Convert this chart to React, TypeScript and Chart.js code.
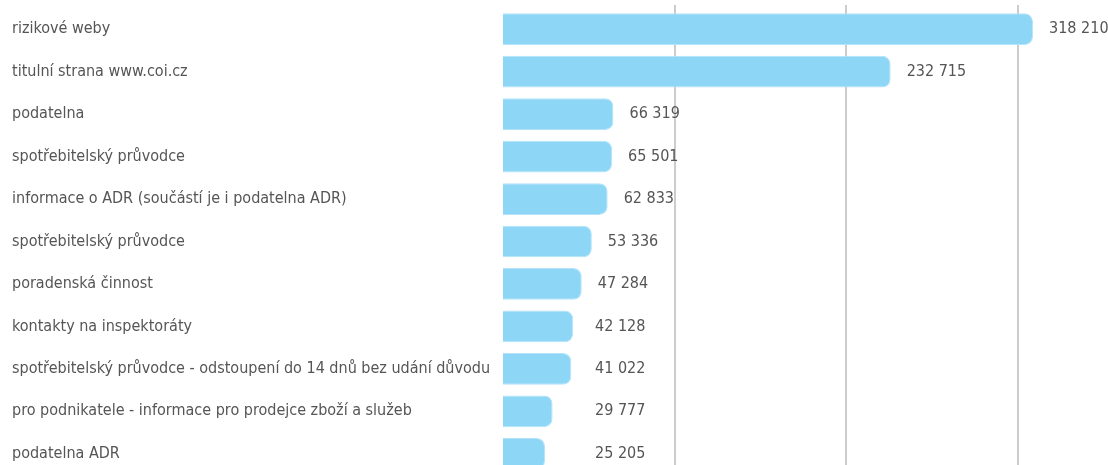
import React, { useEffect, useRef } from "react";
import { Chart, registerables } from "chart.js";

Chart.register(...registerables);

const categories: string[] = [
  "rizikové weby",
  "titulní strana www.coi.cz",
  "podatelna",
  "spotřebitelský průvodce",
  "informace o ADR (součástí je i podatelna ADR)",
  "spotřebitelský průvodce",
  "poradenská činnost",
  "kontakty na inspektoráty",
  "spotřebitelský průvodce - odstoupení do 14 dnů bez udání důvodu",
  "pro podnikatele - informace pro prodejce zboží a služeb",
  "podatelna ADR",
];

const visits: number[] = [
  318210, 232715, 66319, 65501, 62833, 53336, 47284, 42128, 41022, 29777, 25205,
];

const gridValues: number[] = [103000, 206000, 309000];
const axisMax = 363200;

const FONT_FAMILY = '"Liberation Sans Narrow", "DejaVu Sans Condensed", "Roboto", sans-serif';
const FONT_SIZE = 16;
const TEXT_COLOR = "#555555";
const BAR_COLOR = "#8dd6f6";

const formatNumber = (v: number) => String(v).replace(/\B(?=(\d{3})+(?!\d))/g, " ");

const valueLabels = {
  id: "valueLabels",
  afterDatasetsDraw(chart: any) {
    const { ctx, chartArea } = chart;
    const meta = chart.getDatasetMeta(0);
    ctx.save();
    ctx.font = `${FONT_SIZE}px ${FONT_FAMILY}`;
    ctx.fillStyle = TEXT_COLOR;
    ctx.textAlign = "left";
    ctx.textBaseline = "middle";
    meta.data.forEach((bar: any, i: number) => {
      const x = Math.max(bar.x + 16, chartArea.left + 92);
      ctx.fillText(formatNumber(visits[i]), x, bar.y);
    });
    ctx.restore();
  },
};

export default function App() {
  const canvasRef = useRef<HTMLCanvasElement | null>(null);

  useEffect(() => {
    if (!canvasRef.current) return;
    const chart = new Chart(canvasRef.current, {
      type: "bar",
      data: {
        labels: categories,
        datasets: [
          {
            data: visits,
            backgroundColor: BAR_COLOR,
            borderColor: "#b4e4f9",
            borderWidth: 1,
            borderRadius: 8,
            borderSkipped: "start",
            barPercentage: 0.747,
            categoryPercentage: 1,
          },
        ],
      },
      options: {
        indexAxis: "y",
        animation: false,
        responsive: true,
        maintainAspectRatio: false,
        layout: { padding: { left: 12, top: 5, right: 0, bottom: 0 } },
        plugins: {
          legend: { display: false },
          tooltip: { enabled: false },
        },
        scales: {
          x: {
            position: "top",
            min: 0,
            max: axisMax,
            border: { display: false },
            ticks: { display: false },
            afterBuildTicks: (scale: any) => {
              scale.ticks = gridValues.map((v) => ({ value: v }));
            },
            grid: {
              drawTicks: true,
              tickLength: 3,
              lineWidth: 2,
              color: "#cccccc",
            },
          },
          y: {
            position: "left",
            border: { display: false },
            grid: { display: false, drawTicks: false },
            ticks: {
              crossAlign: "far",
              color: TEXT_COLOR,
              font: { family: FONT_FAMILY, size: FONT_SIZE },
              autoSkip: false,
              padding: 0,
            },
            afterFit: (scale: any) => {
              scale.width = 491;
              scale.paddingTop = 0;
              scale.paddingBottom = 0;
            },
          },
        },
      },
      plugins: [valueLabels],
    });
    return () => chart.destroy();
  }, []);

  return (
    <div style={{ position: "fixed", left: 0, top: 0, width: 1108, height: 475, background: "#fff" }}>
      <canvas ref={canvasRef} />
    </div>
  );
}
